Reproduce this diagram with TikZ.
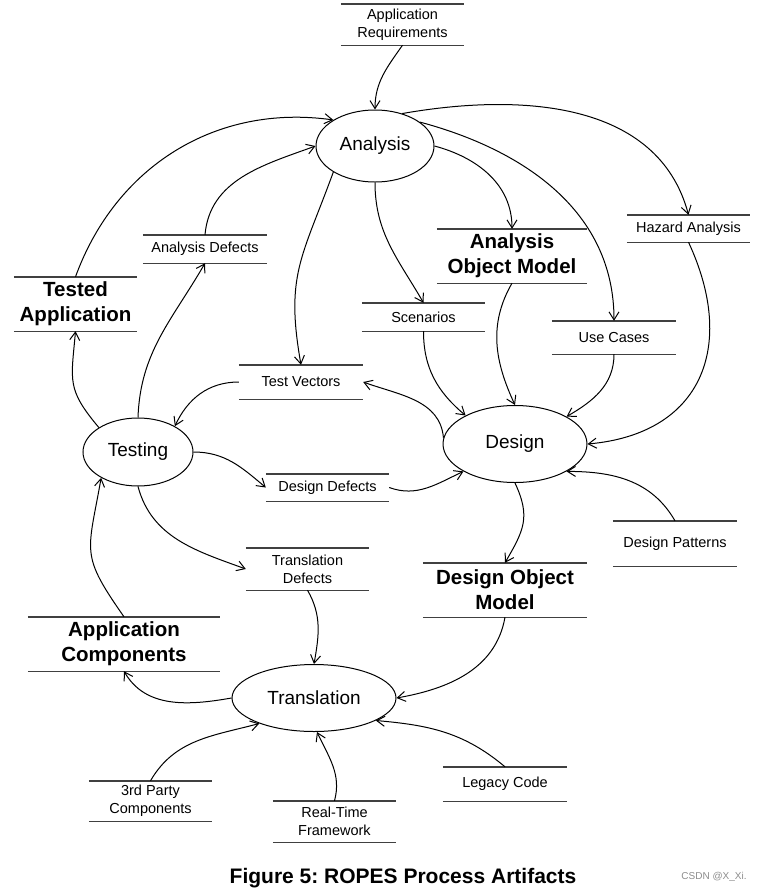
\documentclass[tikz,border=0pt]{standalone}
\usepackage{fontspec}
\setmainfont{Liberation Sans}
\usetikzlibrary{arrows.meta,shapes.geometric}
\tikzset{
  proc/.style={draw,ellipse,line width=1pt,inner sep=0pt,font=\fontsize{19}{22}\selectfont},
  store/.style 2 args={minimum width=#1,minimum height=#2,inner sep=0pt,align=center,
    font=\fontsize{14.5}{18}\selectfont},
  bigstore/.style 2 args={store={#1}{#2},font=\fontsize{20.5}{25}\selectfont\bfseries},
  rule/.style={line width=1.4pt,black!75},
}
\frenchspacing
\begin{document}
\begin{tikzpicture}[x=1pt,y=1pt,>={Straight Barb[length=8pt,width=10pt]}]
  \useasboundingbox (0,0) rectangle (761,-892);
  % the four activities
  \draw
    (375,-146) node[proc,minimum width=118pt,minimum height=72pt] (ana){Analysis}
    (138,-452) node[proc,minimum width=110pt,minimum height=68pt] (test){Testing}
    (515,-444) node[proc,minimum width=144pt,minimum height=77pt] (des){Design}
    (314,-698) node[proc,minimum width=164pt,minimum height=67pt] (trans){Translation};
  % artifacts
  \draw
    (402.5,-24.5) node[store={123pt}{41pt}] (req){Application\\Requirements}
    (205,-249) node[store={124pt}{28pt}] (adef){Analysis Defects}
    (75.5,-304) node[bigstore={123pt}{54pt}] (tested){Tested\\Application}
    (688.5,-228.5) node[store={123pt}{27pt}] (haz){Hazard Analysis}
    (512,-256) node[bigstore={150pt}{54pt}] (aom){Analysis\\Object Model}
    (423.5,-317) node[store={123pt}{28pt}] (scen){Scenarios}
    (614,-337.5) node[store={124pt}{33pt}] (usec){Use Cases}
    (301,-382) node[store={124pt}{34pt}] (tvec){Test Vectors}
    (327.5,-487.5) node[store={123pt}{27pt}] (ddef){Design Defects}
    (307.5,-569) node[store={123pt}{42pt}] (tdef){Translation\\Defects}
    (675,-543.5) node[store={124pt}{45pt}] (dpat){Design Patterns}
    (505,-590) node[bigstore={164pt}{54pt}] (dom){Design Object\\Model}
    (124,-644) node[bigstore={192pt}{54pt}] (acomp){Application\\Components}
    (150.5,-801) node[store={123pt}{40pt}] (third){3rd Party\\Components}
    (334.5,-821.5) node[store={123pt}{41pt}] (rtf){Real-Time\\Framework}
    (505,-784) node[store={124pt}{34pt}] (legacy){Legacy Code};
  \foreach \n in {req,adef,tested,haz,aom,scen,usec,tvec,ddef,tdef,dpat,dom,acomp,third,rtf,legacy}
    \draw[rule] (\n.north west) -- (\n.north east) (\n.south west) -- (\n.south east);
  \begin{scope}[->,line width=1pt]
    \draw (req.south) to[out=-125,in=90] (ana.north);
    \draw (tested.north) to[out=70,in=172] (ana.148);
    \draw (adef.north) to[out=85,in=200] (ana.west);
    \draw (ana.212) to[out=-110,in=100,looseness=1.2] (tvec.north);
    \draw (ana.south) to[out=-90,in=120] (scen.north);
    \draw (ana.east) to[out=-15,in=90] (aom.north);
    \draw (ana.28) to[out=-15,in=90] (usec.north);
    \draw (ana.50) to[out=10,in=105] (haz.north);
    \draw (haz.south) to[out=-65,in=5,looseness=1.3] (des.east);
    \draw (aom.south) to[out=-120,in=115] (des.north);
    \draw (scen.south) to[out=-90,in=140] (des.150);
    \draw (usec.south) to[out=-90,in=30] (des.28);
    \draw (des.175) to[out=95,in=-20] (tvec.east);
    \draw (tvec.west) to[out=180,in=65] (test.35);
    \draw (test.148) to[out=130,in=-95,looseness=1.3] (tested.south);
    \draw (test.north) to[out=88,in=240] (adef.south);
    \draw (test.east) to[out=0,in=140] (ddef.west);
    \draw (ddef.east) to[out=-20,in=205] (des.208);
    \draw (test.south) to[out=-75,in=160] (tdef.west);
    \draw (tdef.south) to[out=-60,in=80] (trans.north);
    \draw (des.south) to[out=-65,in=60,looseness=1.2] (dom.north);
    \draw (dom.south) to[out=-100,in=10] (trans.east);
    \draw (dpat.north) to[out=120,in=0] (des.-28);
    \draw (acomp.north) to[out=125,in=-100,looseness=1.4] (test.215);
    \draw (trans.west) to[out=190,in=-60] (acomp.south);
    \draw (third.north) to[out=60,in=195] (trans.205);
    \draw (rtf.north) to[out=75,in=-65] (trans.-85);
    \draw (legacy.north) to[out=140,in=-5] (trans.-20);
  \end{scope}
  \node[font=\fontsize{21}{25}\selectfont\bfseries] (cap) at (403,-878) {Figure 5: ROPES Process Artifacts};
  \node[font=\fontsize{10}{12}\selectfont,text=black!45] (wm) at (714,-877) {CSDN @X\_Xi.};
\end{tikzpicture}
\end{document}
